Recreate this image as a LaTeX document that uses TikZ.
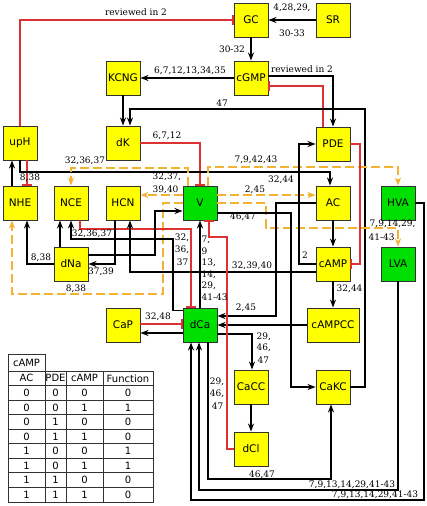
\documentclass[tikz,border=0pt]{standalone}
\usepackage{fontspec}
\setmainfont{DejaVu Serif}
\newfontfamily\boxfont{DejaVu Sans}
\usetikzlibrary{arrows.meta}
\definecolor{boxyellow}{RGB}{255,255,0}
\definecolor{boxgreen}{RGB}{0,224,0}
\definecolor{inhred}{RGB}{222,50,50}
\definecolor{dorange}{RGB}{243,178,50}
\definecolor{boxline}{RGB}{50,50,50}
\begin{document}
\begin{tikzpicture}[x=1pt,y=-1pt,
  gene/.style={draw=boxline, line width=0.9pt, fill=boxyellow, minimum width=34pt, minimum height=34pt, inner sep=0pt, font=\boxfont\fontsize{10.5}{12}\selectfont},
  gnode/.style={gene, fill=boxgreen},
  act/.style={draw=black, line width=1.25pt, -{Stealth[length=8pt,width=6pt,inset=2.5pt]}},
  inh/.style={draw=inhred, line width=1.25pt, -{Bar[width=10pt]}},
  oact/.style={draw=dorange, line width=1.4pt, dash pattern=on 9pt off 4pt, -{Stealth[length=8pt,width=6pt,inset=2.5pt]}},
  lab/.style={font=\fontsize{9}{11}\selectfont, inner sep=0.5pt},
  tab/.style={draw=boxline, line width=0.8pt},
  tabtxt/.style={font=\boxfont\fontsize{10}{12}\selectfont, inner sep=0pt},
]
\useasboundingbox (0,0) rectangle (426,506);
\fill[white] (0,0) rectangle (426,506);

% nodes
\node[gene] (GC) at (251,20) {GC};
\node[gene] (SR) at (333,20) {SR};
\node[gene] (cGMP) at (251,78) {cGMP};
\node[gene] (KCNG) at (123,78) {KCNG};
\node[gene] (upH) at (20,143) {upH};
\node[gene] (dK) at (123,143) {dK};
\node[gene] (PDE) at (333,144) {PDE};
\node[gene] (NHE) at (20,203) {NHE};
\node[gene] (NCE) at (71,203) {NCE};
\node[gene] (HCN) at (123,203) {HCN};
\node[gnode] (V) at (200,203) {V};
\node[gene] (AC) at (333,203) {AC};
\node[gnode] (HVA) at (398,203) {HVA};
\node[gene] (dNa) at (71,264) {dNa};
\node[gene] (cAMP) at (333,264) {cAMP};
\node[gnode] (LVA) at (398,264) {LVA};
\node[gene] (CaP) at (123,325) {CaP};
\node[gnode] (dCa) at (200,325) {dCa};
\node[gene, minimum width=52pt] (cAMPCC) at (333,325) {cAMPCC};
\node[gene] (CaCC) at (251,387) {CaCC};
\node[gene] (CaKC) at (333,387) {CaKC};
\node[gene] (dCl) at (251,449) {dCl};

% connectors
\draw[inh] (upH.north) |- (GC.west);
\draw[act] (SR.west) -- (GC.east);
\draw[act] (GC.south) -- (cGMP.north);
\draw[act] (cGMP.west) -- (KCNG.east);
\draw[act] ([yshift=2pt]cGMP.east) -| (PDE.north);
\draw[inh] ([xshift=-10pt]PDE.north) |- ([yshift=-8pt]cGMP.east);
\draw[act] (KCNG.south) -- (dK.north);
\draw[act] (CaKC.east) -| (365,109) -| ([xshift=7pt]dK.north);
\draw[inh] (dK.east) -| (V.north);
\draw[act] ([xshift=-8pt]NHE.north) -- ([xshift=-8pt]upH.south);
\draw[inh] ([xshift=7pt]upH.south) -- ([xshift=7pt]NHE.north);
\draw[act] (upH.south) -- (20,172) -| ([xshift=-3pt]AC.north);
\draw[oact] ([yshift=8pt]V.west) -- ([yshift=8pt]HCN.east);
\draw[oact] ([xshift=-12pt]V.north) -- (188,168) -| (NCE.north);
\draw[oact] ([xshift=8pt]V.north) -- (208,167) -| (HVA.north);
\draw[oact] ([yshift=8pt]V.east) -- ([yshift=8pt]AC.west);
\draw[oact] (V.east) -- (266,203) -- (266,228) -| (LVA.north);
\draw[oact] (V.west) -- (163,203) -- (163,294) -| ([xshift=-8pt]NHE.south);
\draw[act] (dNa.west) -| ([xshift=7pt]NHE.south);
\draw[act] ([xshift=-11pt]dNa.north) -- ([xshift=-11pt]NCE.south);
\draw[act] ([yshift=-3pt]dCa.north west) -| (173,239) -| (NCE.south);
\draw[inh] ([xshift=9pt]NCE.south) -- (80,229) -| ([xshift=-9pt]dCa.north);
\draw[act] ([yshift=9pt]dNa.east) -- (155,255) |- ([yshift=-8pt]V.west);
\draw[act] ([xshift=-8pt]HCN.south) |- (dNa.east);
\draw[act] ([yshift=-8pt]cAMP.west) -| ([xshift=7pt]HCN.south);
\draw[act] (AC.west) -- (276,203) |- ([yshift=9pt]dCa.east);
\draw[act] ([yshift=-10pt]V.east) -- (291,213) |- (CaKC.west);
\draw[act] (cAMP.west) -- (299,264) |- (PDE.west);
\draw[act] (AC.south) -- (cAMP.north);
\draw[inh] (PDE.east) -- (360,144) |- (cAMP.east);
\draw[act] (cAMP.south) -- (cAMPCC.north);
\draw[act] (cAMPCC.west) -- (dCa.east);
\draw[act] ([yshift=-8pt]dCa.west) -- ([yshift=-8pt]CaP.east);
\draw[inh] ([yshift=1pt]CaP.east) -- ([yshift=1pt]dCa.west);
\draw[act] ([yshift=-9pt]dCa.east) -| ([xshift=1pt]CaCC.north);
\draw[act] (CaCC.south) -- (dCl.north);
\draw[inh] (dCl.west) -| (227,237) -| ([xshift=9pt]V.south);
\draw[act] (dCa.north) -- (V.south);
\draw[act] (HVA.east) -- (424,203) |- (191,500) -- ([xshift=-9pt]dCa.south);
\draw[act] (LVA.south) |- (199,490) -- ([xshift=-1pt]dCa.south);
\draw[act] ([xshift=8pt]dCa.south) -- (208,479) -| ([xshift=-2pt]CaKC.south);

% labels
\node[lab] (l1) at (136,12) {reviewed in 2};
\node[lab] (l2) at (292,8) {4,28,29,};
\node[lab] (l3) at (292,33) {30-33};
\node[lab] (l4) at (232,49) {30-32};
\node[lab] (l5) at (190,71) {6,7,12,13,34,35};
\node[lab] (l6) at (302,69) {reviewed in 2};
\node[lab] (l7) at (222,103) {47};
\node[lab] (l8) at (167,136) {6,7,12};
\node[lab] (l9) at (30,178) {8,38};
\node[lab] (l10) at (281,180) {32,44};
\node[lab, anchor=west] (l11a) at (152,177) {32,37,};
\node[lab, anchor=west] (l11b) at (152,190) {39,40};
\node[lab] (l13) at (85,161) {32,36,37};
\node[lab] (l14) at (256,160) {7,9,42,43};
\node[lab] (l15) at (255,190) {2,45};
\node[lab, anchor=west] (l16a) at (369,224) {7,9,14,29,};
\node[lab, anchor=west] (l16b) at (368,237) {41-43};
\node[lab] (l18) at (76,289) {8,38};
\node[lab] (l19) at (41,258) {8,38};
\node[lab] (l20) at (92,234) {32,36,37};
\node[lab, anchor=east] (l21a) at (190,238) {32,};
\node[lab, anchor=east] (l21b) at (190,250) {36,};
\node[lab, anchor=east] (l21c) at (189,262) {37};
\node[lab] (l22) at (101,272) {37,39};
\node[lab] (l23) at (252,266) {32,39,40};
\node[lab] (l24) at (246,308) {2,45};
\node[lab] (l25) at (243,217) {46,47};
\node[lab] (l26) at (305,255) {2};
\node[lab, anchor=west] (l27) at (336,289) {32,44};
\node[lab] (l28) at (158,317) {32,48};
\node[lab, anchor=west] (l29a) at (256,337) {29,};
\node[lab, anchor=west] (l29b) at (256,348) {46,};
\node[lab, anchor=west] (l29c) at (257,360) {47};
\node[lab, anchor=east] (l30a) at (225,382) {29,};
\node[lab, anchor=east] (l30b) at (225,394) {46,};
\node[lab, anchor=east] (l30c) at (224,406) {47};
\node[lab, anchor=west] (l31a) at (201,240) {7,};
\node[lab, anchor=west] (l31b) at (201,251.5) {9};
\node[lab, anchor=west] (l31c) at (201,263) {13,};
\node[lab, anchor=west] (l31d) at (201,274.5) {14,};
\node[lab, anchor=west] (l31e) at (201,286) {29,};
\node[lab, anchor=west] (l31f) at (201,297.5) {41-43};
\node[lab] (l32) at (375,495) {7,9,13,14,29,41-43};
\node[lab] (l33) at (352,485) {7,9,13,14,29,41-43};
\node[lab] (l34) at (262,475) {46,47};

% table
\draw[tab] (8,354) rectangle (45,371);
\node[tabtxt] (t0) at (26.5,362.5) {cAMP};
\draw[tab] (8,371) rectangle (153,502);
\foreach \i in {1,...,8} { \draw[tab] (8,371+\i*14.556) -- (153,371+\i*14.556); }
\foreach \x in {45,66,103} { \draw[tab] (\x,371) -- (\x,502); }
\node[tabtxt] (h1) at (26.5,378.3) {AC};
\node[tabtxt] (h2) at (55.5,378.3) {PDE};
\node[tabtxt] (h3) at (84.5,378.3) {cAMP};
\node[tabtxt] (h4) at (128,378.3) {Function};
\foreach \a/\b/\c/\d [count=\r] in {0/0/0/0,0/0/1/1,0/1/0/0,0/1/1/0,1/0/0/1,1/0/1/1,1/1/0/0,1/1/1/0} {
  \node[tabtxt] at (26.5,378.3+\r*14.556) {\a};
  \node[tabtxt] at (55.5,378.3+\r*14.556) {\b};
  \node[tabtxt] at (84.5,378.3+\r*14.556) {\c};
  \node[tabtxt] at (128,378.3+\r*14.556) {\d};
}
\end{tikzpicture}
\end{document}
